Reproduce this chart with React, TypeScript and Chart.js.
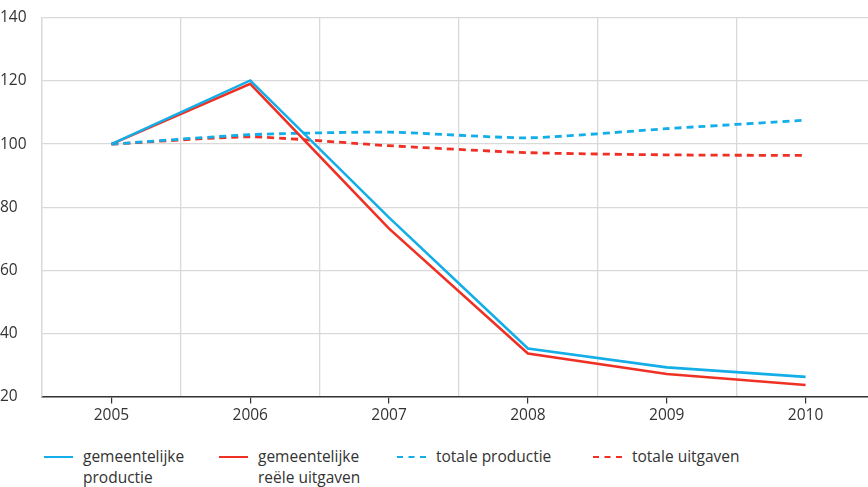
import React, { useEffect, useRef } from "react";
import { Chart, registerables } from "chart.js";

Chart.register(...registerables);

const years = ["2005", "2006", "2007", "2008", "2009", "2010"];
const gemProductie = [100, 120.2, 76.7, 35.2, 29.2, 26.2];
const gemUitgaven = [100, 119.1, 73.2, 33.6, 27.1, 23.6];
const totProductie = [100, 103.0, 103.8, 102.0, 104.9, 107.6];
const totUitgaven = [100, 102.3, 99.5, 97.3, 96.6, 96.4];
const yTicks = [20, 40, 60, 80, 100, 120, 140];

const BLUE = "#13aee8";
const RED = "#ee3124";
const FONT = "'Open Sans', sans-serif";

const legendItems = [
  { color: BLUE, dashed: false, lines: ["gemeentelijke", "productie"], left: 44 },
  { color: RED, dashed: false, lines: ["gemeentelijke", "reële uitgaven"], left: 219 },
  { color: BLUE, dashed: true, lines: ["totale productie"], left: 397 },
  { color: RED, dashed: true, lines: ["totale uitgaven"], left: 593 },
];

export default function App() {
  const ref = useRef<HTMLCanvasElement | null>(null);
  useEffect(() => {
    if (!ref.current) return;
    const chart = new Chart(ref.current, {
      type: "line",
      data: {
        labels: years,
        datasets: [
          { label: "gemeentelijke productie", data: gemProductie, borderColor: BLUE, borderWidth: 2.6, pointRadius: 0, tension: 0 },
          { label: "gemeentelijke reële uitgaven", data: gemUitgaven, borderColor: RED, borderWidth: 2.6, pointRadius: 0, tension: 0 },
          { label: "totale productie", data: totProductie, borderColor: BLUE, borderWidth: 2.8, borderDash: [7, 5], pointRadius: 0, tension: 0.2 },
          { label: "totale uitgaven", data: totUitgaven, borderColor: RED, borderWidth: 2.8, borderDash: [7, 5], pointRadius: 0, tension: 0.2 },
        ],
      },
      options: {
        animation: false,
        responsive: false,
        maintainAspectRatio: false,
        layout: { padding: { top: 18, bottom: 2, left: 0, right: 0 } },
        plugins: { legend: { display: false }, tooltip: { enabled: false } },
        scales: {
          x: {
            type: "category",
            offset: true,
            grid: { offset: false, drawOnChartArea: false, drawTicks: true, tickLength: 7, color: "#333333", lineWidth: 1.2 },
            border: { display: true, color: "#333333", width: 1.6 },
            ticks: { color: "#333333", font: { family: FONT, size: 15.5 }, padding: 3, maxRotation: 0 },
          },
          x2: {
            type: "category",
            position: "top",
            labels: years,
            offset: true,
            grid: { offset: true, drawTicks: false, color: "#d9d9d9", lineWidth: 1.3 },
            border: { display: false },
            ticks: { display: false },
          },
          y: {
            min: 20,
            max: 140,
            afterBuildTicks: (axis: any) => {
              axis.ticks = yTicks.map((v) => ({ value: v }));
            },
            afterFit: (axis: any) => {
              axis.width = 42;
            },
            grid: { drawTicks: false, color: "#d9d9d9", lineWidth: 1.3 },
            border: { display: true, color: "#d9d9d9", width: 1.3 },
            ticks: { color: "#333333", font: { family: FONT, size: 15.5 }, crossAlign: "far", padding: 8 },
          },
        },
      },
    });
    return () => chart.destroy();
  }, []);

  return (
    <div style={{ position: "fixed", left: 0, top: 0, width: 868, height: 487, overflow: "hidden", background: "#fff", fontFamily: FONT }}>
      <canvas ref={ref} width={875} height={430} style={{ position: "absolute", left: 0, top: 0, width: 875, height: 430 }} />
      {legendItems.map((it, i) => (
        <div key={i} style={{ position: "absolute", left: it.left, top: 446 }}>
          <div
            style={{
              position: "absolute",
              left: 0,
              top: 10,
              width: 29,
              height: 0,
              borderTop: `2.6px ${it.dashed ? "dashed" : "solid"} ${it.color}`,
            }}
          />
          <div style={{ position: "absolute", left: 39, top: 0, whiteSpace: "nowrap", fontSize: 15.5, lineHeight: "21px", color: "#333333" }}>
            {it.lines.map((l, j) => (
              <div key={j}>{l}</div>
            ))}
          </div>
        </div>
      ))}
    </div>
  );
}
